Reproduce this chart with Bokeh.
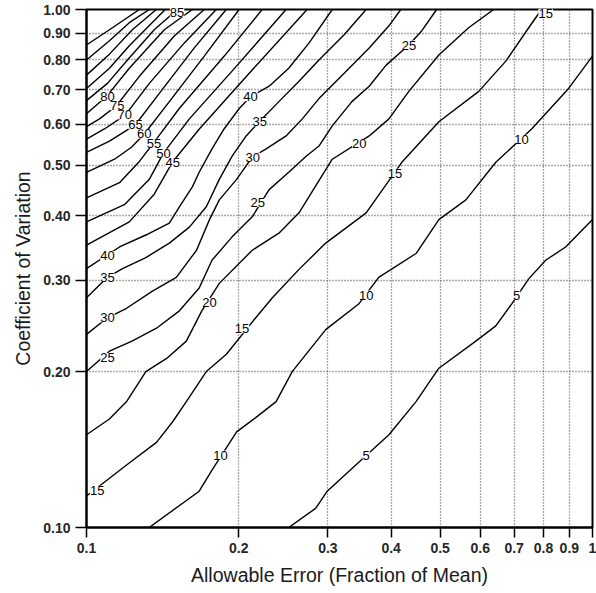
from bokeh.plotting import figure
from bokeh.models import FixedTicker, CustomJSTickFormatter
from bokeh.core.properties import value
from bokeh.embed import file_html
from bokeh.resources import INLINE

# ---------------- tick values / labels ----------------
X_TICKS = [0.1, 0.2, 0.3, 0.4, 0.5, 0.6, 0.7, 0.8, 0.9, 1.0]
X_TICK_LABELS = ["0.1", "0.2", "0.3", "0.4", "0.5", "0.6", "0.7", "0.8", "0.9", "1"]
Y_TICKS = [0.1, 0.2, 0.3, 0.4, 0.5, 0.6, 0.7, 0.8, 0.9, 1.0]
Y_TICK_LABELS = ["0.10", "0.20", "0.30", "0.40", "0.50", "0.60", "0.70", "0.80", "0.90", "1.00"]

# ---------------- contour lines (allowable error E, coefficient of variation CV) ----------------
LEVELS = [5, 10, 15, 20, 25, 30, 35, 40, 45, 50, 55, 60, 65, 70, 75, 80, 85, 90, 95, 100, 105]

E_05 = [0.251, 0.284, 0.299, 0.357, 0.396, 0.448, 0.497, 0.588, 0.644, 0.692, 0.748, 0.808, 0.885, 1.0]
CV_05 = [0.100, 0.109, 0.1175, 0.1377, 0.151, 0.175, 0.203, 0.229, 0.245, 0.270, 0.302, 0.328, 0.348, 0.393]

E_10 = [0.133, 0.167, 0.177, 0.198, 0.216, 0.237, 0.255, 0.297, 0.345, 0.378, 0.448, 0.497, 0.562, 0.644, 0.758, 0.897, 1.0]
CV_10 = [0.100, 0.1175, 0.129, 0.153, 0.163, 0.175, 0.200, 0.241, 0.270, 0.304, 0.338, 0.393, 0.429, 0.507, 0.588, 0.704, 0.813]

E_15 = [0.100, 0.120, 0.1375, 0.148, 0.1575, 0.1725, 0.189, 0.216, 0.233, 0.263, 0.297, 0.357, 0.420, 0.497, 0.596, 0.674, 0.748, 0.793]
CV_15 = [0.115, 0.132, 0.146, 0.160, 0.175, 0.200, 0.216, 0.254, 0.2776, 0.315, 0.354, 0.405, 0.507, 0.607, 0.695, 0.795, 0.922, 1.0]

E_20 = [0.100, 0.111, 0.120, 0.131, 0.144, 0.1575, 0.169, 0.183, 0.2126, 0.240, 0.263, 0.306, 0.362, 0.396, 0.4335, 0.497, 0.569, 0.638]
CV_20 = [0.151, 0.162, 0.175, 0.200, 0.212, 0.229, 0.262, 0.296, 0.343, 0.370, 0.405, 0.514, 0.570, 0.615, 0.695, 0.817, 0.922, 1.0]

E_25 = [0.100, 0.111, 0.123, 0.1375, 0.1526, 0.167, 0.177, 0.194, 0.2126, 0.2296, 0.251, 0.2717, 0.288, 0.306, 0.3346, 0.362, 0.391, 0.4335, 0.460, 0.492]
CV_25 = [0.200, 0.219, 0.229, 0.2425, 0.262, 0.290, 0.328, 0.364, 0.398, 0.449, 0.485, 0.521, 0.545, 0.596, 0.664, 0.711, 0.781, 0.854, 0.910, 1.0]

E_30 = [0.100, 0.110, 0.120, 0.135, 0.1505, 0.165, 0.175, 0.183, 0.198, 0.2126, 0.2265, 0.248, 0.267, 0.288, 0.323, 0.362, 0.396, 0.418]
CV_30 = [0.236, 0.254, 0.265, 0.286, 0.304, 0.343, 0.393, 0.429, 0.470, 0.519, 0.538, 0.570, 0.615, 0.673, 0.753, 0.843, 0.930, 1.0]

E_35 = [0.100, 0.110, 0.1178, 0.131, 0.1458, 0.1597, 0.1725, 0.183, 0.194, 0.2068, 0.2195, 0.240, 0.263, 0.288, 0.323, 0.357]
CV_35 = [0.2776, 0.304, 0.316, 0.332, 0.354, 0.380, 0.416, 0.470, 0.521, 0.570, 0.607, 0.664, 0.727, 0.799, 0.894, 1.0]

E_40 = [0.100, 0.1095, 0.1162, 0.131, 0.1458, 0.1526, 0.162, 0.167, 0.177, 0.187, 0.2004, 0.211, 0.2296, 0.251, 0.2754, 0.306]
CV_40 = [0.316, 0.335, 0.348, 0.367, 0.387, 0.416, 0.455, 0.485, 0.538, 0.588, 0.644, 0.679, 0.711, 0.770, 0.862, 1.0]

E_45 = [0.100, 0.1215, 0.1361, 0.1478, 0.1671, 0.2097, 0.2729]
CV_45 = [0.351, 0.389, 0.440, 0.507, 0.588, 0.753, 1.0]

E_50 = [0.100, 0.1188, 0.1331, 0.1419, 0.1597, 0.2003, 0.2480]
CV_50 = [0.389, 0.420, 0.470, 0.528, 0.615, 0.788, 1.0]

E_55 = [0.100, 0.1162, 0.1272, 0.1356, 0.1525, 0.1872, 0.2224]
CV_55 = [0.433, 0.463, 0.509, 0.552, 0.644, 0.813, 1.0]

E_60 = [0.100, 0.1136, 0.1227, 0.1301, 0.1458, 0.1709, 0.2003]
CV_60 = [0.485, 0.514, 0.542, 0.575, 0.664, 0.813, 1.0]

E_65 = [0.100, 0.1110, 0.1249, 0.1393, 0.1633, 0.1889]
CV_65 = [0.530, 0.557, 0.599, 0.689, 0.843, 1.0]

E_70 = [0.100, 0.1085, 0.1194, 0.1331, 0.1561, 0.1805]
CV_70 = [0.562, 0.588, 0.626, 0.720, 0.862, 1.0]

E_75 = [0.100, 0.1061, 0.1146, 0.1272, 0.1491, 0.1709]
CV_75 = [0.594, 0.615, 0.652, 0.743, 0.889, 1.0]

E_80 = [0.100, 0.1095, 0.1215, 0.1425, 0.1619]
CV_80 = [0.629, 0.679, 0.770, 0.914, 1.0]

E_85 = [0.100, 0.110, 0.1205, 0.1361, 0.1512]
CV_85 = [0.667, 0.720, 0.799, 0.914, 1.0]

E_90 = [0.100, 0.111, 0.1215, 0.1331, 0.1431]
CV_90 = [0.704, 0.770, 0.851, 0.931, 1.0]

E_95 = [0.100, 0.111, 0.1232, 0.1374]
CV_95 = [0.747, 0.820, 0.914, 1.0]

E_100 = [0.100, 0.111, 0.1215, 0.1331]
CV_100 = [0.799, 0.870, 0.943, 1.0]

E_105 = [0.100, 0.111, 0.1272]
CV_105 = [0.854, 0.914, 1.0]

# ---------------- contour labels ----------------
LABEL_TEXT = ["5", "5", "10", "10", "10", "15", "15", "15", "15", "20", "20",
              "25", "25", "25", "30", "30", "35", "35", "40", "40",
              "45", "50", "55", "60", "65", "70", "75", "80", "85"]
LABEL_E = [0.357, 0.708, 0.184, 0.357, 0.724, 0.105, 0.203, 0.407, 0.808, 0.175, 0.346,
           0.110, 0.218, 0.434, 0.110, 0.213, 0.110, 0.220, 0.110, 0.211,
           0.148, 0.142, 0.136, 0.130, 0.125, 0.119, 0.115, 0.110, 0.151]
LABEL_CV = [0.138, 0.281, 0.138, 0.281, 0.562, 0.118, 0.242, 0.483, 0.983, 0.272, 0.550,
            0.213, 0.424, 0.854, 0.254, 0.519, 0.304, 0.607, 0.335, 0.679,
            0.507, 0.528, 0.552, 0.575, 0.599, 0.626, 0.652, 0.679, 0.986]

X_TITLE = "Allowable Error (Fraction of Mean)"
Y_TITLE = "Coefficient of Variation"

FONT = "Liberation Sans"

contour_xs = [E_05, E_10, E_15, E_20, E_25, E_30, E_35, E_40, E_45, E_50, E_55,
              E_60, E_65, E_70, E_75, E_80, E_85, E_90, E_95, E_100, E_105]
contour_ys = [CV_05, CV_10, CV_15, CV_20, CV_25, CV_30, CV_35, CV_40, CV_45, CV_50, CV_55,
              CV_60, CV_65, CV_70, CV_75, CV_80, CV_85, CV_90, CV_95, CV_100, CV_105]

p = figure(width=596, height=588, x_axis_type="log", y_axis_type="log",
           x_range=(0.1, 1.0), y_range=(0.1, 1.0),
           output_backend="svg", toolbar_location=None,
           min_border_left=86, min_border_right=4, min_border_top=9, min_border_bottom=50)
p.background_fill_color = "white"
p.border_fill_color = "white"
p.outline_line_color = "black"
p.outline_line_width = 2

xt = FixedTicker(ticks=X_TICKS, minor_ticks=[])
yt = FixedTicker(ticks=Y_TICKS, minor_ticks=[])
p.xaxis.ticker = xt
p.yaxis.ticker = yt
p.xgrid.ticker = xt
p.ygrid.ticker = yt

fmt_code = """
let best = -1, bd = 1e9;
for (let i = 0; i < tvals.length; i++) {
  const d = Math.abs(tvals[i] - tick);
  if (d < bd) { bd = d; best = i; }
}
return (best >= 0 && bd < 1e-6) ? tlabels[best] : "";
"""
p.xaxis.formatter = CustomJSTickFormatter(args=dict(tvals=X_TICKS, tlabels=X_TICK_LABELS), code=fmt_code)
p.yaxis.formatter = CustomJSTickFormatter(args=dict(tvals=Y_TICKS, tlabels=Y_TICK_LABELS), code=fmt_code)

for ax in (p.xaxis[0], p.yaxis[0]):
    ax.axis_line_width = 2
    ax.axis_line_color = "black"
    ax.major_tick_in = 0
    ax.minor_tick_out = 0
    ax.minor_tick_in = 0
    ax.major_tick_line_width = 1.5
    ax.major_tick_line_color = "black"
    ax.major_label_text_font = FONT
    ax.major_label_text_font_size = "14px"
    ax.major_label_text_font_style = "bold"
    ax.major_label_text_color = "#262626"
    ax.axis_label_text_font = FONT
    ax.axis_label_text_font_size = "19.5px"
    ax.axis_label_text_font_style = "normal"
    ax.axis_label_text_color = "#1a1a1a"

p.xaxis.axis_label = X_TITLE
p.yaxis.axis_label = Y_TITLE
p.xaxis.major_tick_out = 10
p.yaxis.major_tick_out = 11
p.xaxis.major_label_standoff = 5
p.yaxis.major_label_standoff = 5
p.xaxis.axis_label_standoff = 8
p.yaxis.axis_label_standoff = 6

for g in (p.xgrid[0], p.ygrid[0]):
    g.grid_line_color = "#555555"
    g.grid_line_dash = "1 2"
    g.grid_line_width = 1.3

p.multi_line(xs=contour_xs, ys=contour_ys, line_color="black", line_width=1.4)

lab = p.text(x=LABEL_E, y=LABEL_CV, text=LABEL_TEXT,
             text_font=value(FONT), text_font_size="13px", text_color="black",
             text_align="center", text_baseline="middle",
             background_fill_color="white")
lab.level = "overlay"

open("out.html", "w").write(file_html(p, INLINE))
